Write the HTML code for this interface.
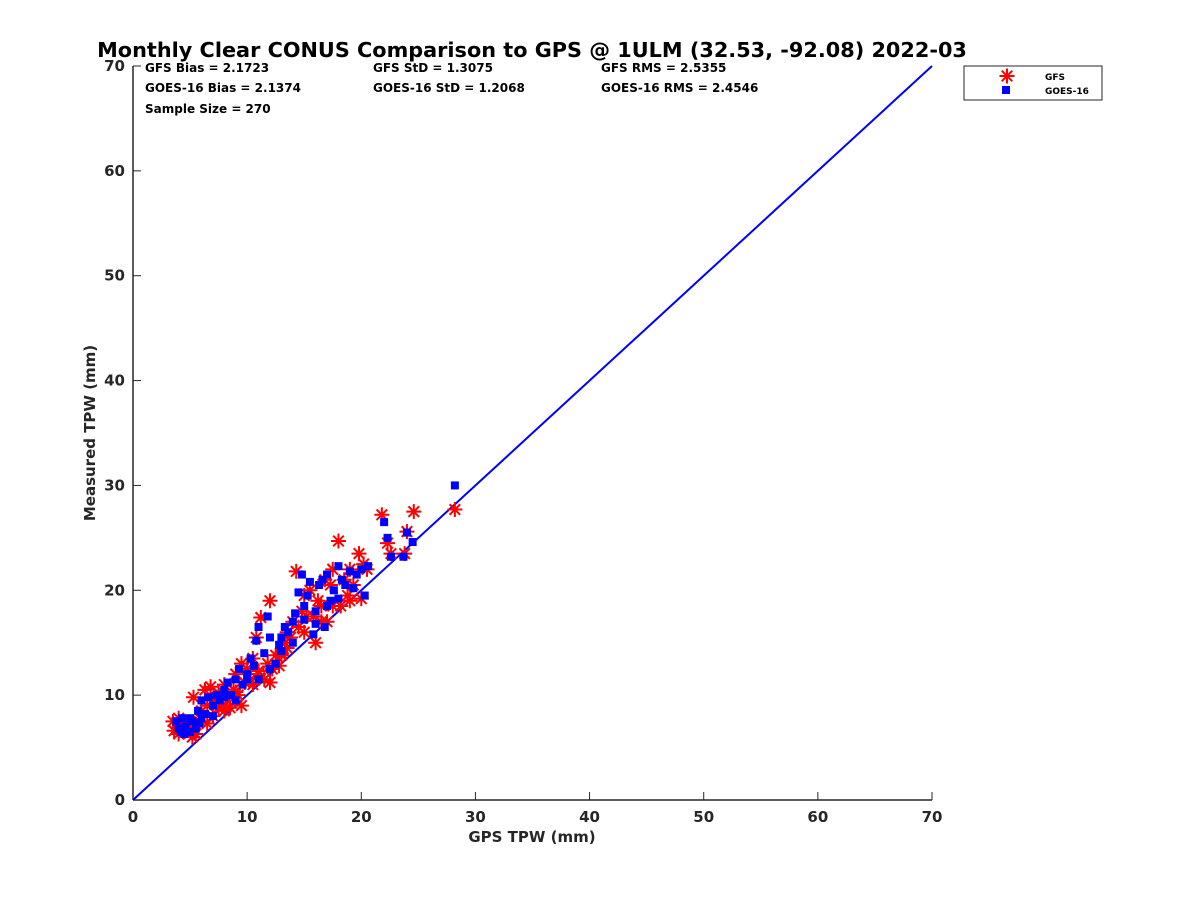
<!DOCTYPE html>
<html><head><meta charset="utf-8"><style>
body{margin:0;background:#fff;}
svg text{font-family:"DejaVu Sans","Liberation Sans",sans-serif;font-weight:bold;fill:#262626;}
</style></head><body>
<svg id="chart" width="1200" height="900" xmlns="http://www.w3.org/2000/svg">
<rect width="1200" height="900" fill="#fff"/>
<text x="532" y="57" text-anchor="middle" font-size="20.8" style="fill:#000">Monthly Clear CONUS Comparison to GPS @ 1ULM (32.53, -92.08) 2022-03</text>
<g id="stats" font-size="12">
<text x="145" y="72" style="fill:#000">GFS Bias = 2.1723</text>
<text x="145" y="92" style="fill:#000">GOES-16 Bias = 2.1374</text>
<text x="145" y="113" style="fill:#000">Sample Size = 270</text>
<text x="373" y="72" style="fill:#000">GFS StD = 1.3075</text>
<text x="373" y="92" style="fill:#000">GOES-16 StD = 1.2068</text>
<text x="601" y="72" style="fill:#000">GFS RMS = 2.5355</text>
<text x="601" y="92" style="fill:#000">GOES-16 RMS = 2.4546</text>
</g>
<g id="axes"></g>
<g id="marks"></g>
<g>
<rect x="964" y="66" width="138" height="34" fill="#fff" stroke="#262626" stroke-width="1"/>
<g id="leg-gfs"></g>
<text x="1045" y="80" font-size="9" style="fill:#000">GFS</text>
<rect x="1002" y="86" width="8" height="8" fill="#0000ff"/>
<text x="1045" y="94" font-size="9" style="fill:#000">GOES-16</text>
</g>
</svg>
<script>
const xTicks=[0,10,20,30,40,50,60,70];
const yTicks=[0,10,20,30,40,50,60,70];
const gfsX=[3.5,3.6,4,4.2,4.5,4.8,5,5.2,5.5,5.3,5.8,6,6.3,6.5,6.8,7,7.2,7.5,7.8,8,8.3,8.5,8.8,9,9.2,9.5,9.8,10,10.3,10.5,10.8,11,11.2,11.5,11.8,12,12.2,12.5,12.8,13,13.3,13.5,13.8,14,14.3,14.5,14.8,15,15.2,15.5,15.8,16,16.2,16.5,16.8,17,17.3,17.5,18,18.2,18.5,18.8,19,19.3,19.8,20,20.2,20.5,21.8,22.3,22.6,23.8,24,24.6,28.2,13,12,9.5,8,6.5,4,16.5,15,10.5,17.5,19,7.5,9,11,13.5,5.5];
const gfsY=[7.5,6.6,7.8,7,6.5,7.2,6.8,6,6.3,9.8,7.5,8.5,10.5,9,10.8,8,9.5,10.2,9,11,9.5,8.8,10.5,12,10,13,11.2,12.5,11.5,13.5,15.5,12,17.4,11.5,13,19,12.5,13.8,12.8,14,15,16,15.5,17,21.8,16.5,18,19.5,17.5,20,17.5,15,19,18.5,21,17,20.5,22,24.7,18.5,21,19.5,22,20.5,23.5,19.2,22.5,22,27.2,24.5,23.5,23.5,25.6,27.5,27.7,13.8,11.2,9,8.5,7.3,6.3,17,16,11,18.5,19,8.8,10.3,12.3,14.5,7.2];
const goesX=[3.8,4,4.3,4.6,5,5.2,5.5,5.7,6,6.3,6.6,7,7.3,7.6,8,8.3,8.6,9,9.3,9.6,10,10.3,10.6,10.8,11,11.5,11.8,12,12.5,12.8,13,13.3,13.6,14,14.2,14.5,14.8,15,15.3,15.5,15.8,16,16.3,16.6,16.8,17,17.3,17.6,18,18.3,18.6,19,19.3,19.6,20,20.3,20.6,22,22.3,22.6,23.7,24,24.5,28.2,9,7,12,14,16,11,5,4.5,6,8,10,13,15,17,18,4.2,5.8];
const goesY=[7.5,6.8,7.8,7,6.5,7.5,6.8,8.5,9.5,8.2,9.8,9,10,9.5,10.5,11.2,10,11.5,12.5,11,12,13.5,12.8,15.2,16.5,14,17.5,15.5,13,14.8,15.5,16.5,16,17,17.8,19.8,21.5,18.5,19.5,20.8,15.8,18,20.5,21,16.5,21.5,19,20,22.3,21,20.5,21.8,20.2,21.5,22,19.5,22.3,26.5,25,23.2,23.2,25.5,24.6,30,9.5,8,12.5,15,16.8,11.5,7.8,6.3,7.8,9.8,11.5,14.2,17.2,18.5,19.2,6.5,7.3];
const X0=133,X1=932,Y0=800,Y1=66;
const sx=v=>X0+(v-0)/70*(X1-X0);
const sy=v=>Y0-(v-0)/70*(Y0-Y1);
const NS='http://www.w3.org/2000/svg';
function mk(t,a){const e=document.createElementNS(NS,t);for(const k in a)e.setAttribute(k,a[k]);return e;}
const ax=document.getElementById('axes');
const xl=mk('line',{x1:X0,y1:Y0,x2:X1,y2:Y0,stroke:'#262626','stroke-width':1.5});


ax.appendChild(xl);
const yl=mk('line',{x1:X0,y1:Y0,x2:X0,y2:Y1,stroke:'#262626','stroke-width':1.5});


ax.appendChild(yl);
xTicks.forEach(v=>{
 const t=mk('line',{x1:sx(v),y1:Y0,x2:sx(v),y2:Y0-8,stroke:'#262626','stroke-width':1});
 
 
 ax.appendChild(t);
 const l=mk('text',{x:sx(v),y:Y0+22,'text-anchor':'middle','font-size':15});
 
 
 l.textContent=v;ax.appendChild(l);
});
yTicks.forEach(v=>{
 const t=mk('line',{x1:X0,y1:sy(v),x2:X0+8,y2:sy(v),stroke:'#262626','stroke-width':1});
 
 
 ax.appendChild(t);
 const l=mk('text',{x:X0-8,y:sy(v)+5,'text-anchor':'end','font-size':15});
 
 
 l.textContent=v;ax.appendChild(l);
});
const xt=mk('text',{x:532,y:842,'text-anchor':'middle','font-size':15});


xt.textContent='GPS TPW (mm)';ax.appendChild(xt);
const yt=mk('text',{x:0,y:0,'text-anchor':'middle','font-size':15,transform:'translate(95,433) rotate(-90)'});


yt.textContent='Measured TPW (mm)';ax.appendChild(yt);
const mg=document.getElementById('marks');
const ref=mk('line',{x1:sx(0),y1:sy(0),x2:sx(70),y2:sy(70),stroke:'#0000ff','stroke-width':2});


mg.appendChild(ref);
function star(cx,cy,r){
 const p=[];for(let i=0;i<4;i++){const a=i*Math.PI/4;p.push(`M${cx-r*Math.cos(a)},${cy-r*Math.sin(a)}L${cx+r*Math.cos(a)},${cy+r*Math.sin(a)}`);}
 return mk('path',{d:p.join(''),stroke:'#ff0000','stroke-width':2,fill:'none'});
}
gfsX.forEach((v,i)=>{
 const s=star(sx(v),sy(gfsY[i]),7.5);
 
 
 mg.appendChild(s);
});
goesX.forEach((v,i)=>{
 const r=mk('rect',{x:sx(v)-4,y:sy(goesY[i])-4,width:8,height:8,fill:'#0000ff'});
 
 
 mg.appendChild(r);
});
const lg=star(1007,76,7.5);
document.getElementById('leg-gfs').appendChild(lg);
</script>
</body></html>
